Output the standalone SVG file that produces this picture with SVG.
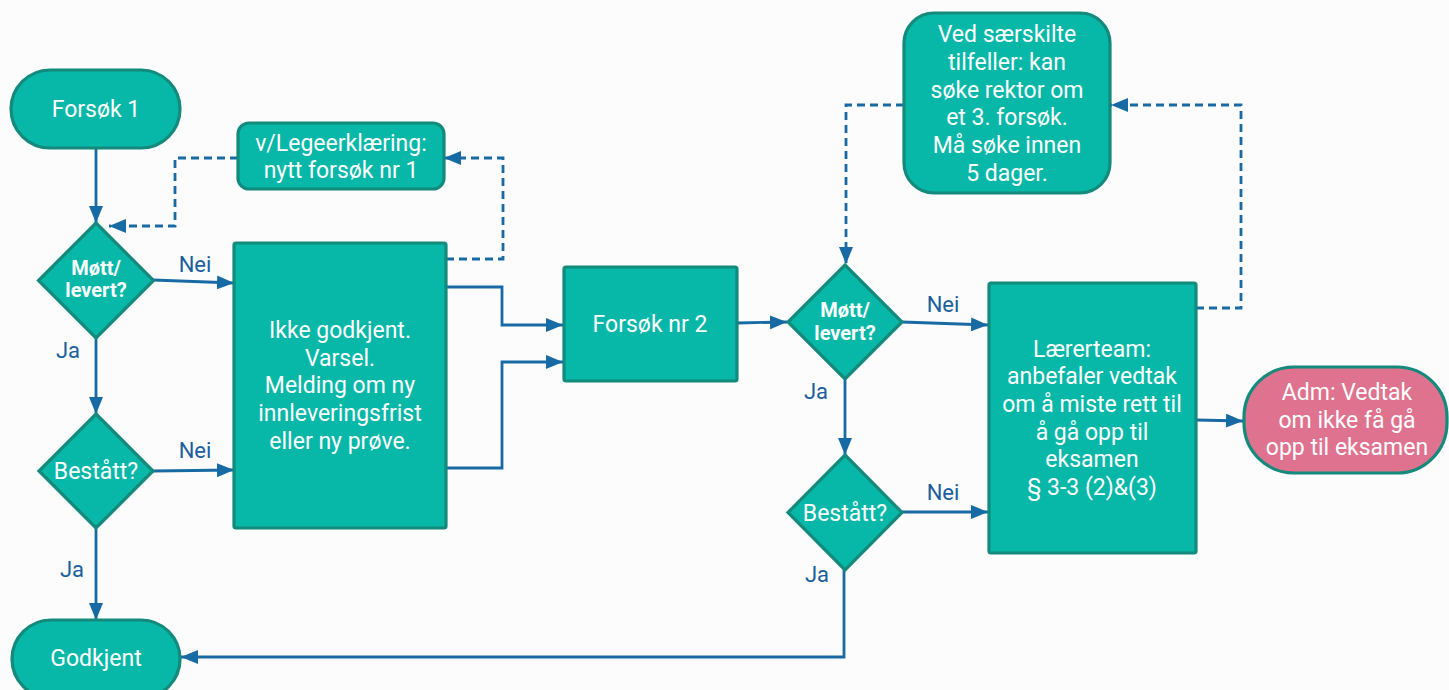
<svg xmlns="http://www.w3.org/2000/svg" width="1449" height="690" viewBox="0 0 1449 690">
<style>
.node{fill:#07b8a8;stroke:#138a7b;stroke-width:3.2}
.pink{fill:#df728e;stroke:#138a7b;stroke-width:3.2}
.t{font-family:Roboto,"Noto Sans",sans-serif;font-size:23px;fill:#ffffff;text-anchor:middle}
.b{font-family:Roboto,"Noto Sans",sans-serif;font-size:20px;font-weight:bold;fill:#ffffff;text-anchor:middle}
.lbl{font-family:Roboto,"Noto Sans",sans-serif;font-size:22px;fill:#1a5f9c;text-anchor:middle}
.c{fill:none;stroke:#176aa4;stroke-width:2.8;marker-end:url(#ah)}
.d{fill:none;stroke:#176aa4;stroke-width:2.8;stroke-dasharray:8 5;marker-end:url(#ah)}
</style>
<defs>
<marker id="ah" viewBox="0 0 17 14" refX="17" refY="7" markerWidth="17" markerHeight="14" markerUnits="userSpaceOnUse" orient="auto">
<path d="M0,0 L17,7 L0,14 z" fill="#176aa4"/>
</marker>
</defs>
<rect x="0" y="0" width="1449" height="690" fill="#fcfcfd"/>

<g id="connectors">
<path class="c" d="M96,148 V223"/>
<path class="c" d="M153,280 L234,283"/>
<path class="c" d="M96,338 V414"/>
<path class="c" d="M153,471 L234,470"/>
<path class="c" d="M96,528 V620"/>
<path class="c" d="M446,287 H502 V325 H563"/>
<path class="c" d="M446,468 H502 V362 H563"/>
<path class="d" d="M446,259 H503 V158 H444"/>
<path class="d" d="M238,158 H175 V226 H109"/>
<path class="c" d="M737,323 L787,322"/>
<path class="c" d="M902,322 L988,325"/>
<path class="c" d="M845,378 V455"/>
<path class="c" d="M902,512 L988,512"/>
<path class="c" d="M844,570 V657 H181"/>
<path class="d" d="M1196,308 H1241 V105 H1111"/>
<path class="d" d="M904,105 H846 V264"/>
<path class="c" d="M1196,420 L1243,421"/>
<text class="lbl" x="195" y="272">Nei</text>
<text class="lbl" x="68" y="358">Ja</text>
<text class="lbl" x="195" y="458">Nei</text>
<text class="lbl" x="72" y="577">Ja</text>
<text class="lbl" x="943" y="312">Nei</text>
<text class="lbl" x="816" y="399">Ja</text>
<text class="lbl" x="943" y="500">Nei</text>
<text class="lbl" x="817" y="582">Ja</text>
</g>

<g id="forsok1">
<rect class="node" x="11" y="70" width="169" height="78" rx="39"/>
<text class="t" x="96" y="117">Forsøk 1</text>
</g>

<g id="legeerklaering">
<rect class="node" x="238" y="123" width="206" height="66" rx="11"/>
<text class="t" x="341" y="151">v/Legeerklæring:</text>
<text class="t" x="341" y="178">nytt forsøk nr 1</text>
</g>

<g id="mott1">
<polygon class="node" points="96,223 153.5,280.5 96,338 38.5,280.5"/>
<text class="b" x="96" y="275">Møtt/</text>
<text class="b" x="96" y="297">levert?</text>
</g>

<g id="bestatt1">
<polygon class="node" points="96,414 153,471 96,528 39,471"/>
<text class="t" x="96" y="479">Bestått?</text>
</g>

<g id="godkjent">
<rect class="node" x="12" y="620" width="168" height="78" rx="39"/>
<text class="t" x="96" y="666">Godkjent</text>
</g>

<g id="ikkegodkjent">
<rect class="node" x="234" y="243" width="212" height="285" rx="2"/>
<text class="t" x="340" y="338">Ikke godkjent.</text>
<text class="t" x="340" y="366">Varsel.</text>
<text class="t" x="340" y="393">Melding om ny</text>
<text class="t" x="340" y="421">innleveringsfrist</text>
<text class="t" x="340" y="449">eller ny prøve.</text>
</g>

<g id="forsok2">
<rect class="node" x="564" y="267" width="173" height="114" rx="2"/>
<text class="t" x="650" y="332">Forsøk nr 2</text>
</g>

<g id="mott2">
<polygon class="node" points="845,265 902,322 845,379 788,322"/>
<text class="b" x="845" y="317">Møtt/</text>
<text class="b" x="845" y="340">levert?</text>
</g>

<g id="bestatt2">
<polygon class="node" points="845,455 902,512.5 845,570 788,512.5"/>
<text class="t" x="845" y="521">Bestått?</text>
</g>

<g id="saerskilte">
<rect class="node" x="904" y="13" width="206" height="180" rx="30"/>
<text class="t" x="1007" y="42">Ved særskilte</text>
<text class="t" x="1007" y="70">tilfeller: kan</text>
<text class="t" x="1007" y="98">søke rektor om</text>
<text class="t" x="1007" y="125">et 3. forsøk.</text>
<text class="t" x="1007" y="153">Må søke innen</text>
<text class="t" x="1007" y="181">5 dager.</text>
</g>

<g id="laererteam">
<rect class="node" x="989" y="283" width="207" height="270" rx="2"/>
<text class="t" x="1092" y="357">Lærerteam:</text>
<text class="t" x="1092" y="384">anbefaler vedtak</text>
<text class="t" x="1092" y="412">om å miste rett til</text>
<text class="t" x="1092" y="440">å gå opp til</text>
<text class="t" x="1092" y="467">eksamen</text>
<text class="t" x="1092" y="495">§ 3-3 (2)&amp;(3)</text>
</g>

<g id="adm">
<rect class="pink" x="1244" y="367" width="203" height="106" rx="50"/>
<text class="t" x="1347" y="400">Adm: Vedtak</text>
<text class="t" x="1347" y="428">om ikke få gå</text>
<text class="t" x="1347" y="455">opp til eksamen</text>
</g>
</svg>
